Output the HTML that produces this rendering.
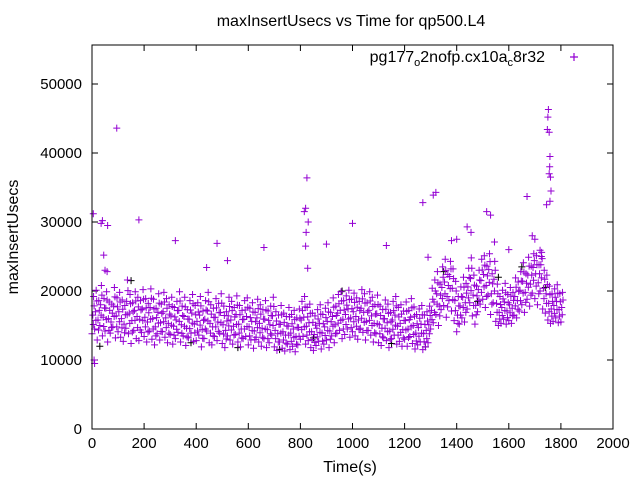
<!DOCTYPE html>
<html><head><meta charset="utf-8"><style>
body{margin:0;background:#fff}
svg{display:block;font-family:"Liberation Sans",sans-serif}
</style></head><body>
<svg id="chart" width="640" height="480" xmlns="http://www.w3.org/2000/svg">
<rect width="640" height="480" fill="#fff"/>
<text x="351" y="26" font-size="16" text-anchor="middle">maxInsertUsecs vs Time for qp500.L4</text>
<text x="350" y="472" font-size="16" text-anchor="middle">Time(s)</text>
<text transform="translate(18,237) rotate(-90)" font-size="16" text-anchor="middle">maxInsertUsecs</text>
<g id="axes"></g>
<g id="marks"></g>
<g>
<text x="545" y="62" font-size="16" text-anchor="end">pg177<tspan font-size="11" dy="4">o</tspan><tspan dy="-4">2nofp.cx10a</tspan><tspan font-size="11" dy="4">c</tspan><tspan dy="-4">8r32</tspan></text>
<path d="M570 57h8M574 53v8" stroke="#9400d3" stroke-width="1.2"/>
</g>
<rect x="92" y="45" width="521" height="384" fill="none" stroke="#000" stroke-width="1"/>
</svg>
<script>
const xTicks=[0,200,400,600,800,1000,1200,1400,1600,1800,2000];
const yTicks=[0,10000,20000,30000,40000,50000];
const step=10;
const lowVals=[13.8,14.5,12.9,15,13.5,14.2,12.6,13.9,14.8,13.2,14.1,13.3,12.7,14.6,13.8,12.4,14.3,13.1,12.8,14,13.4,12.6,14.2,13,12.2,13.8,12.9,14.1,13.3,12.5,13.7,12.3,13.1,14,12.6,13.5,12.1,13.2,13.9,12.7,12.8,13.6,11.9,13.1,14.2,12.5,12.2,13.4,12.8,13.9,12.4,11.8,13.5,12.9,12.3,13.7,12.6,11.9,13.1,13.4,12.2,12.9,11.7,13.3,12.6,12,13.1,11.8,12.5,13.6,11.9,11.4,12.6,11.7,11.3,12.3,11.5,12,11.2,12.2,13,13.4,12.3,12.8,11.8,11.4,12.1,12.7,11.6,12.3,12.9,11.8,13.5,12.5,13.9,14.3,13.1,13.7,14.5,13.3,14.1,13.5,13,14.6,14,12.9,14.3,13.6,12.6,13.8,12.5,12.1,13.2,12.8,11.8,13.1,13.6,12.3,12.7,12,13,12,13.4,12.4,11.6,12.2,12.6,11.5,11.9,12.5,14.5,15.4,16.6,15,17.3,17.9,16.2,18.6,17.1,15.7,14.1,15.2,16.1,15.5,17.4,18.3,16.4,15.2,17,18.1,18.8,17.6,19.4,16.6,18.3,15.6,15,15.3,15.9,15.2,15.7,15.3,16.5,16.1,17.1,18,16.9,18.8,17.8,19.7,18.9,18,20,17.4,16.8,15.8,15.3,15.6,16.1,15.4,15.5];
const midVals=[16.5,17,15.8,18,16.2,17.5,16,15.5,17.8,16.4,17,16,15.2,18.5,16.8,15.7,17.2,16.3,15.9,17.4,16.2,15.5,17.6,16,14.8,16.9,15.4,17,16.1,15.3,16.4,14.9,15.8,17.2,15.1,16.3,14.6,15.9,16.8,15.2,15.6,16.5,14.4,15.9,17.1,15.3,14.8,16.2,15.5,16.9,15.1,14.3,16.4,15.8,14.9,16.6,15.2,14.5,15.9,16.3,14.8,15.6,14.2,16.1,15.3,14.6,15.9,14.4,15.1,16.4,14.3,13.8,15.2,14.1,13.6,14.9,13.9,14.5,13.4,14.7,15.8,16.2,14.9,15.4,14.1,13.7,14.6,15.3,13.9,14.8,15.6,14.2,16.3,15.1,16.8,17.2,15.9,16.6,17.4,16.1,17,16.3,15.8,17.5,16.9,15.6,17.2,16.4,15.3,16.7,15.1,14.6,16,15.4,14.2,15.8,16.5,14.9,15.3,14.4,15.7,14.5,16.2,15,13.9,14.7,15.2,13.8,14.3,15.1,17.2,18.4,19.6,17.8,20.5,21.3,19.2,22.1,20.4,18.6,16.5,17.8,19.1,18.3,20.6,21.8,19.4,17.9,20.2,21.5,22.4,20.8,23.1,19.6,21.7,18.2,16.9,17.6,18.4,17.1,18,17.5,19.2,18.6,20.1,21.4,19.8,22.3,21,23.4,22.5,21.2,23.8,20.4,19.6,18.2,17.4,17.9,18.5,17.3,17.6];
const highVals=[19.2,20.1,18.6,20.8,18.9,19.9,18.4,18.1,20.5,19,19.8,18.7,17.9,21.6,19.5,18.3,19.9,19.1,18.6,20.2,18.9,18.2,20.3,18.8,17.5,19.6,18.1,19.8,18.9,18,19.1,17.6,18.5,19.9,17.8,19.1,17.3,18.6,19.5,17.9,18.3,19.2,17.1,18.6,19.8,18,17.5,18.9,18.2,19.6,17.8,17,19.1,18.5,17.6,19.3,17.9,17.2,18.6,19,17.5,18.3,16.9,18.8,18,17.3,18.6,17.1,17.8,19.1,17,16.5,17.9,16.8,16.3,17.6,16.6,17.2,16.1,17.4,18.5,19.2,17.6,18.1,16.8,16.4,17.3,18,16.6,17.5,18.3,16.9,19,17.8,19.5,19.9,18.6,19.3,20.1,18.8,19.7,19,18.5,20.2,19.6,18.3,19.9,19.1,18,19.4,17.8,17.3,18.7,18.1,16.9,18.5,19.2,17.6,18,17.1,18.4,17.2,18.9,17.7,16.6,17.4,17.9,16.5,17,17.8,20.4,21.6,22.8,21,23.5,24.6,22.4,24.3,23.2,21.4,19.2,20.6,22,21.1,23.3,24.8,22.3,20.7,23,24.6,25.1,23.6,25.4,22.5,24.3,21,19.2,20.1,21.1,19.5,20.5,19.8,21.9,21.3,22.8,24.1,22.5,24.9,23.6,25.4,25.1,23.8,25.6,23,22.3,20.7,19.6,20.3,20.9,19.6,19.8];
const outTimes=[5,10,8,35,40,45,50,58,95,180,320,60,440,480,520,660,825,820,815,830,822,820,828,900,1000,1130,1270,1320,1310,1290,1440,1455,1515,1530,1545,1670,1690,1720,1752,1750,1748,1755,1758,1757,1755,1760,1762,1758,1745,1600,1380,1400,1700,1725];
const outVals=[31.2,9.5,10,29.8,30.2,25.2,23,22.8,43.6,30.3,27.3,29.5,23.4,26.9,24.4,26.3,36.4,32,31.5,30,28.5,26.5,23.3,26.8,29.8,26.6,32.8,34.3,33.9,24.9,29.3,28.5,31.5,31,27.1,33.7,28,25.9,46.3,45.2,43.4,43,39.5,38,37,36.5,34.5,33,32.5,26,27.3,27.5,27.5,25];
const blackTimes=[30,150,380,560,720,850,960,1150,1280,1350,1480,1560,1650,1740];
const blackVals=[12,21.5,12.5,11.8,11.5,13.2,20,12.4,11.9,22.8,18.5,22,23.5,20.5];

const NS="http://www.w3.org/2000/svg";
const X0=92,X1=613,Y0=429,YS=(429-84)/50000;
const xs=t=>X0+t*(X1-X0)/2000;
const ys=v=>Y0-v*YS;
const axes=document.getElementById('axes'),marks=document.getElementById('marks');
function mk(tag,attrs,parent){const e=document.createElementNS(NS,tag);for(const k in attrs)e.setAttribute(k,attrs[k]);parent.appendChild(e);return e;}
xTicks.forEach(t=>{
  const x=xs(t);
  const tk=mk('path',{d:`M${x} 429v-6M${x} 45v6`,stroke:'#000','stroke-width':1},axes);
  
  
  const lb=mk('text',{x:x,y:448,'font-size':15,'text-anchor':'middle'},axes);
  lb.textContent=t;
  
  
});
yTicks.forEach(v=>{
  const y=ys(v);
  const tk=mk('path',{d:`M92 ${y}h6M613 ${y}h-6`,stroke:'#000','stroke-width':1},axes);
  
  
  const lb=mk('text',{x:82,y:y+5,'font-size':15,'text-anchor':'end'},axes);
  lb.textContent=v;
  
  
});
function plus(t,v,color){
  const x=xs(t),y=ys(v*1000);
  const p=mk('path',{d:`M${x-3.5} ${y}h7M${x} ${y-3.5}v7`,stroke:color,'stroke-width':1},marks);
  
  
}
blackTimes.forEach((t,i)=>plus(t,blackVals[i],'#000'));
[[lowVals,0],[midVals,3],[highVals,6]].forEach(([arr,off])=>{
  arr.forEach((v,i)=>plus(i*step+off,v,'#9400d3'));
});
lowVals.forEach((v,i)=>{plus(i*step+5,(v+midVals[i])/2,'#9400d3');plus(i*step+8,(midVals[i]+highVals[i])/2,'#9400d3');});
outTimes.forEach((t,i)=>plus(t,outVals[i],'#9400d3'));
</script>
</body></html>
